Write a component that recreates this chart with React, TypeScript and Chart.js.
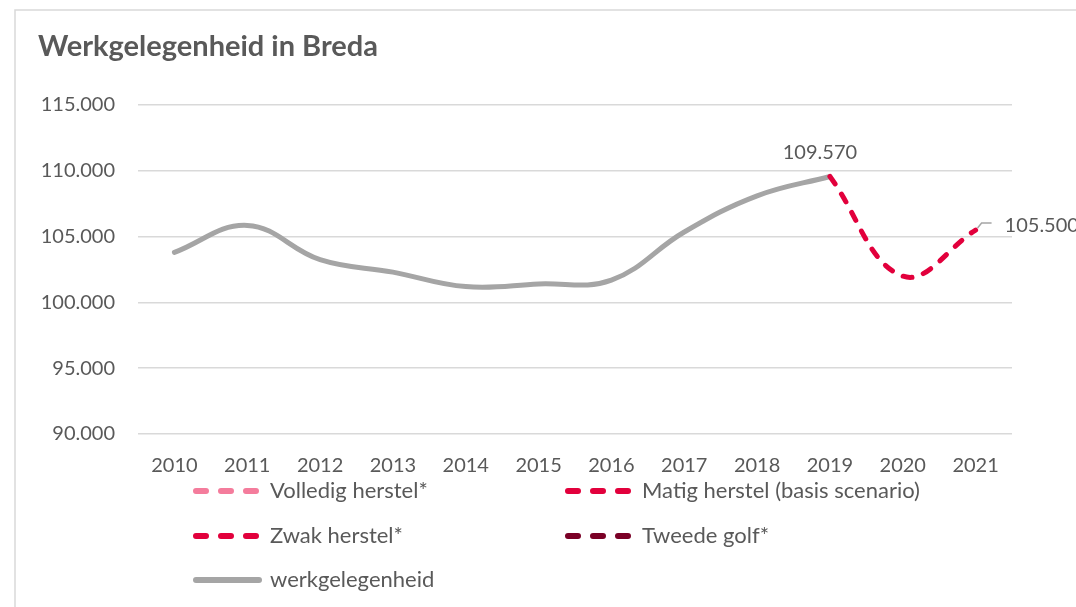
import React, { useEffect, useRef } from 'react';
import { Chart, registerables } from 'chart.js';

Chart.register(...registerables);

const years = ['2010', '2011', '2012', '2013', '2014', '2015', '2016', '2017', '2018', '2019', '2020', '2021'];
const werkgelegenheid = [103800, 105850, 103250, 102300, 101200, 101400, 101700, 105350, 108100, 109570, null, null];
const volledigHerstel = [null, null, null, null, null, null, null, null, null, null, null, null];
const matigHerstel = [null, null, null, null, null, null, null, null, null, 109570, 102000, 105500];
const zwakHerstel = [null, null, null, null, null, null, null, null, null, null, null, null];
const tweedeGolf = [null, null, null, null, null, null, null, null, null, null, null, null];
const yTicks = [90000, 95000, 100000, 105000, 110000, 115000];

const TEXT = '#595959';
const FONT = 'Lato, "Open Sans", sans-serif';

const fmt = (v: number) => {
  const s = Math.round(v).toString();
  return s.replace(/\B(?=(\d{3})+(?!\d))/g, '.');
};

const legendItems = [
  { label: 'Volledig herstel*', color: '#F47C9C', dashed: true, col: 0, row: 0 },
  { label: 'Matig herstel (basis scenario)', color: '#E2003C', dashed: true, col: 1, row: 0 },
  { label: 'Zwak herstel*', color: '#E2003C', dashed: true, col: 0, row: 1 },
  { label: 'Tweede golf*', color: '#7A0026', dashed: true, col: 1, row: 1 },
  { label: 'werkgelegenheid', color: '#A5A5A5', dashed: false, col: 0, row: 2 },
];

const decor = {
  id: 'decor',
  beforeDraw(chart: any) {
    const ctx = chart.ctx;
    ctx.save();
    ctx.fillStyle = '#ffffff';
    ctx.fillRect(0, 0, chart.width, chart.height);
    ctx.strokeStyle = '#D9D9D9';
    ctx.lineWidth = 1.5;
    ctx.beginPath();
    ctx.moveTo(15, chart.height + 5);
    ctx.lineTo(15, 10);
    ctx.lineTo(chart.width + 5, 10);
    ctx.stroke();
    ctx.fillStyle = TEXT;
    ctx.font = `bold 29px ${FONT}`;
    ctx.textBaseline = 'middle';
    ctx.textAlign = 'left';
    ctx.fillText('Werkgelegenheid in Breda', 38, 47);
    ctx.restore();
  },
  afterDatasetsDraw(chart: any) {
    const ctx = chart.ctx;
    const x = chart.scales.x;
    const y = chart.scales.y;
    ctx.save();
    ctx.fillStyle = TEXT;
    ctx.font = `20px ${FONT}`;
    ctx.textBaseline = 'middle';
    // label at 2019
    const i1 = 9;
    const px1 = x.getPixelForValue(i1);
    const py1 = y.getPixelForValue(werkgelegenheid[i1] as number);
    ctx.textAlign = 'center';
    ctx.fillText(fmt(werkgelegenheid[i1] as number), px1 - 10, py1 - 24);
    // label at 2021 with leader line
    const i2 = 11;
    const px2 = x.getPixelForValue(i2);
    const py2 = y.getPixelForValue(matigHerstel[i2] as number);
    ctx.strokeStyle = '#A5A5A5';
    ctx.lineWidth = 1.5;
    ctx.beginPath();
    ctx.moveTo(px2 + 2, py2 - 2);
    ctx.lineTo(px2 + 6, py2 - 7);
    ctx.lineTo(px2 + 16, py2 - 7);
    ctx.stroke();
    ctx.textAlign = 'left';
    ctx.fillText(fmt(matigHerstel[i2] as number), px2 + 29, py2 - 4);
    ctx.restore();
  },
  afterDraw(chart: any) {
    const ctx = chart.ctx;
    ctx.save();
    const colX = [193, 565];
    const rowY = [491, 536, 580];
    legendItems.forEach((it) => {
      const lx = colX[it.col];
      const ly = rowY[it.row];
      ctx.strokeStyle = it.color;
      ctx.lineWidth = 6;
      ctx.lineCap = 'round';
      ctx.setLineDash(it.dashed ? [10, 15] : []);
      ctx.beginPath();
      ctx.moveTo(lx + 3, ly);
      ctx.lineTo(it.dashed ? lx + 64 : lx + 66, ly);
      ctx.stroke();
      ctx.setLineDash([]);
      ctx.fillStyle = TEXT;
      ctx.font = `22px ${FONT}`;
      ctx.textBaseline = 'middle';
      ctx.textAlign = 'left';
      ctx.fillText(it.label, lx + 77, ly);
    });
    ctx.restore();
  },
};

export default function App() {
  const ref = useRef<HTMLCanvasElement | null>(null);
  useEffect(() => {
    if (!ref.current) return;
    const dashed = (label: string, data: any[], color: string) => ({
      label,
      data,
      borderColor: color,
      backgroundColor: color,
      borderWidth: 5,
      borderDash: [9, 12],
      borderCapStyle: 'round' as const,
      pointRadius: 0,
      tension: 0.4,
      spanGaps: false,
      fill: false,
    });
    const chart = new Chart(ref.current, {
      type: 'line',
      data: {
        labels: years,
        datasets: [
          dashed('Volledig herstel*', volledigHerstel, '#F47C9C'),
          dashed('Zwak herstel*', zwakHerstel, '#E2003C'),
          dashed('Tweede golf*', tweedeGolf, '#7A0026'),
          dashed('Matig herstel (basis scenario)', matigHerstel, '#E2003C'),
          {
            label: 'werkgelegenheid',
            data: werkgelegenheid,
            borderColor: '#A5A5A5',
            backgroundColor: '#A5A5A5',
            borderWidth: 5,
            borderCapStyle: 'round' as const,
            borderJoinStyle: 'round' as const,
            pointRadius: 0,
            tension: 0.4,
            fill: false,
          },
        ],
      },
      options: {
        animation: false,
        responsive: false,
        maintainAspectRatio: false,
        layout: { padding: { top: 105, right: 64, bottom: 0, left: 0 } },
        plugins: {
          legend: { display: false },
          title: { display: false },
          tooltip: { enabled: false },
        },
        scales: {
          x: {
            offset: true,
            grid: { display: false, drawTicks: false },
            border: { display: false },
            ticks: { color: TEXT, font: { family: FONT, size: 20 }, padding: 20, maxRotation: 0 },
            afterFit: (s: any) => { s.height = 607 - 434; },
          },
          y: {
            min: 90000,
            max: 115000,
            afterBuildTicks: (s: any) => { s.ticks = yTicks.map((v) => ({ value: v })); },
            grid: { color: '#D9D9D9', lineWidth: 1.5, drawTicks: false },
            border: { display: false },
            ticks: {
              color: TEXT,
              font: { family: FONT, size: 20 },
              padding: 23,
              callback: (v: any) => fmt(Number(v)),
            },
            afterFit: (s: any) => { s.width = 138; },
          },
        },
      },
      plugins: [decor],
    });
    return () => chart.destroy();
  }, []);
  return (
    <div style={{ position: 'absolute', left: 0, top: 0, width: 1076, height: 607, background: '#fff' }}>
      <canvas ref={ref} width={1076} height={607} style={{ width: 1076, height: 607, display: 'block' }} />
    </div>
  );
}
